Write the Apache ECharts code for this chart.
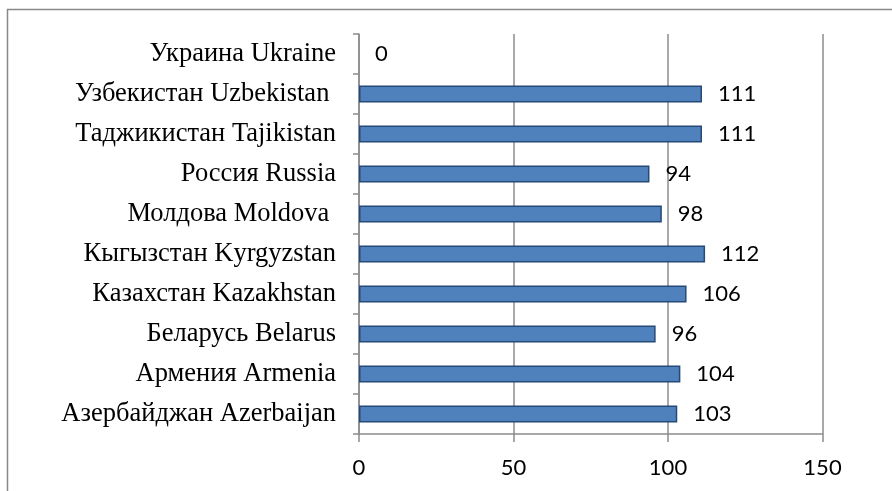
<!DOCTYPE html>
<html><head><meta charset="utf-8">
<script src="https://cdn.jsdelivr.net/npm/echarts@6/dist/echarts.min.js"></script>
<style>html,body{margin:0;padding:0;background:#fff}#c{width:892px;height:491px}</style>
</head><body><div id="c"></div>
<script>
const categories = ["Азербайджан Azerbaijan","Армения Armenia","Беларусь Belarus","Казахстан Kazakhstan","Кыгызстан Kyrgyzstan","Молдова Moldova ","Россия Russia","Таджикистан Tajikistan","Узбекистан Uzbekistan ","Украина Ukraine"];
const values = [103,104,96,106,112,98,94,111,111,0];
const xTicks = [0,50,100,150];

const chart = echarts.init(document.getElementById('c'), null, {renderer:'canvas'});
chart.setOption({
  animation:false,
  backgroundColor:'#fff',
  graphic:[{type:'rect',shape:{x:7.5,y:9.5,width:900,height:500},style:{fill:'none',stroke:'#898989',lineWidth:1.5},z:-1}],
  grid:{left:359,top:34,width:463.5,height:400,containLabel:false},
  xAxis:{type:'value',min:xTicks[0],max:xTicks[xTicks.length-1],interval:50,
    axisLine:{show:true,lineStyle:{color:'#8c8c8c',width:1.5}},
    axisTick:{show:true,length:8,lineStyle:{color:'#8c8c8c',width:1.5}},
    splitLine:{show:true,lineStyle:{color:'#8c8c8c',width:1.5}},
    axisLabel:{color:'#000',fontFamily:'Lato',fontSize:22,margin:23}},
  yAxis:{type:'category',data:categories,
    axisLine:{show:true,lineStyle:{color:'#8c8c8c',width:1.5}},
    axisTick:{show:true,length:6,lineStyle:{color:'#8c8c8c',width:1.5}},
    axisLabel:{color:'#000',fontFamily:'"Liberation Serif", "Times New Roman", serif',fontSize:26.5,margin:23}},
  series:[{type:'bar',
    data:values.map(v => v === 0 ? {value:v, itemStyle:{borderWidth:0}} : v),
    barWidth:17,
    itemStyle:{color:'#4f81bd',borderColor:'#254a78',borderWidth:1.5},
    label:{show:true,position:'right',distance:16,color:'#000',fontFamily:'Lato',fontSize:22}}]
});
</script></body></html>
